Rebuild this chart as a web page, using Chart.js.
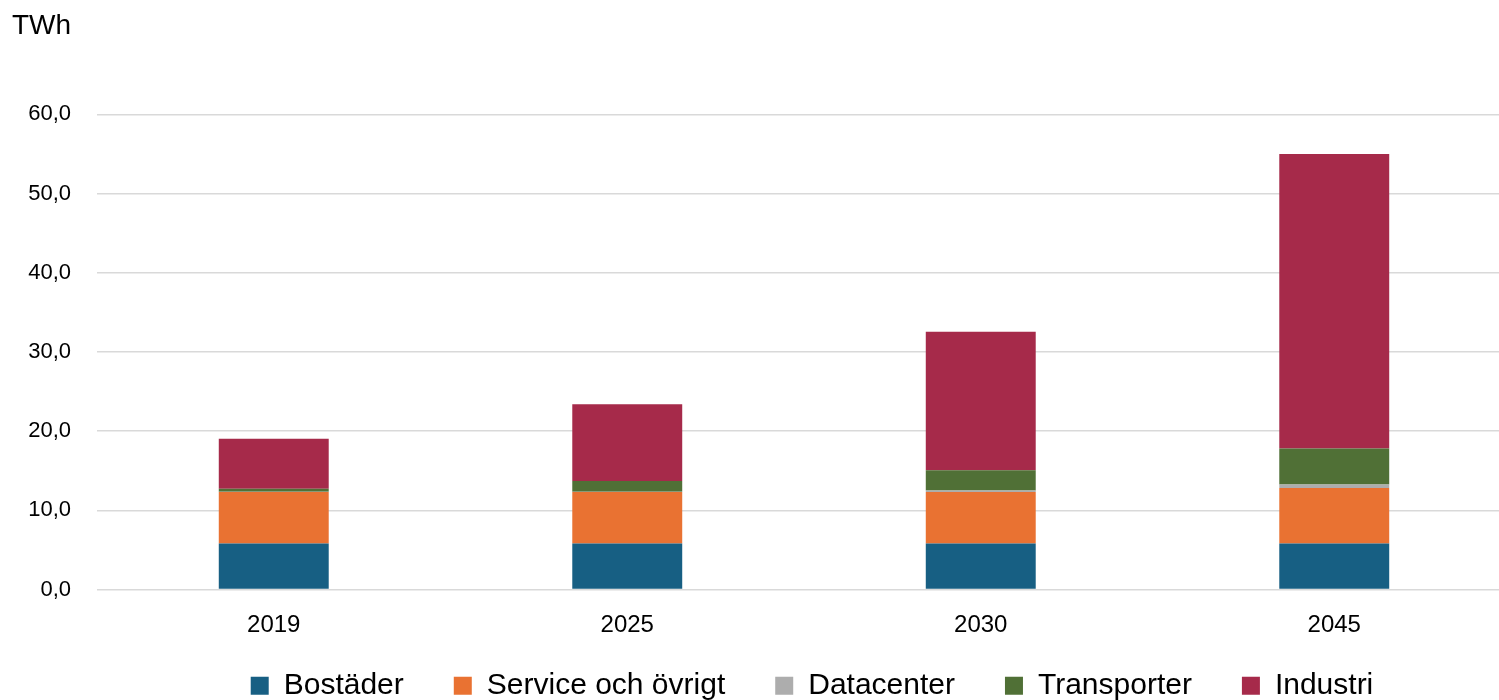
<!DOCTYPE html>
<html>
<head>
<meta charset="utf-8">
<script src="https://cdn.jsdelivr.net/npm/chart.js@4"></script>
<style>
  html, body { margin: 0; padding: 0; background: #fff; overflow: hidden; }
  #wrap { width: 1499px; height: 700px; overflow: hidden; }
  canvas { display: block; }
</style>
</head>
<body>
<div id="wrap"><canvas id="c" width="1511" height="700"></canvas></div>
<script>
const categories = ['2019', '2025', '2030', '2045'];
const bostader   = [5.8, 5.8, 5.8, 5.8];
const service    = [6.5, 6.5, 6.5, 7.0];
const datacenter = [0.03, 0.05, 0.2, 0.45];
const transport  = [0.4, 1.35, 2.55, 4.55];
const industri   = [6.3, 9.7, 17.5, 37.2];
const yTickLabels = ['0,0', '10,0', '20,0', '30,0', '40,0', '50,0', '60,0'];
const seriesNames = ['Bostäder', 'Service och övrigt', 'Datacenter', 'Transporter', 'Industri'];
const seriesColors = ['#175F83', '#E97232', '#ADADAD', '#507036', '#A62A4A'];

const FONT = "'Liberation Sans', Arial, sans-serif";
const allSeries = [bostader, service, datacenter, transport, industri];

// move the legend block (it keeps its own spacing) so it sits like the original
const legendShift = {
  id: 'legendShift',
  afterLayout(chart) {
    const lg = chart.legend;
    if (!lg) return;
    lg.top -= 18.5;            // extend box upward; bottom stays at canvas edge
    lg.height = lg.bottom - lg.top;
    lg.left += 8; lg.right += 8;
  }
};

new Chart(document.getElementById('c'), {
  type: 'bar',
  data: {
    labels: categories,
    datasets: allSeries.map((d, i) => ({
      label: seriesNames[i],
      data: d,
      backgroundColor: seriesColors[i],
      borderWidth: 0,
      barPercentage: 0.311,
      categoryPercentage: 1.0
    }))
  },
  plugins: [legendShift],
  options: {
    responsive: false,
    animation: false,
    devicePixelRatio: 1,
    layout: { padding: { left: 12, right: 0, top: 0, bottom: 0 } },
    plugins: {
      tooltip: { enabled: false },
      title: {
        display: true,
        text: 'TWh',
        align: 'start',
        color: '#000',
        font: { family: FONT, size: 28, weight: 'normal' },
        padding: { top: 9, bottom: 71.7 }
      },
      legend: {
        position: 'bottom',
        fullSize: false,
        maxHeight: 60.7,
        labels: {
          color: '#000',
          font: { family: FONT, size: 30 },
          boxWidth: 18,
          boxHeight: 18,
          padding: 50
        }
      }
    },
    scales: {
      x: {
        stacked: true,
        grid: { display: false, drawTicks: false },
        border: { display: false },
        ticks: { color: '#000', font: { family: FONT, size: 24 }, padding: 21 },
        afterFit: (s) => { s.height = 49.8; }
      },
      y: {
        stacked: true,
        min: 0,
        max: 60,
        grid: { color: '#D9D9D9', lineWidth: 1.5, drawTicks: false },
        border: { display: false },
        ticks: {
          stepSize: 10,
          color: '#000',
          padding: 26,
          font: { family: FONT, size: 22 },
          callback: (v, i) => yTickLabels[i]
        },
        afterFit: (s) => { s.width = 85; }
      }
    }
  }
});
</script>
</body>
</html>
